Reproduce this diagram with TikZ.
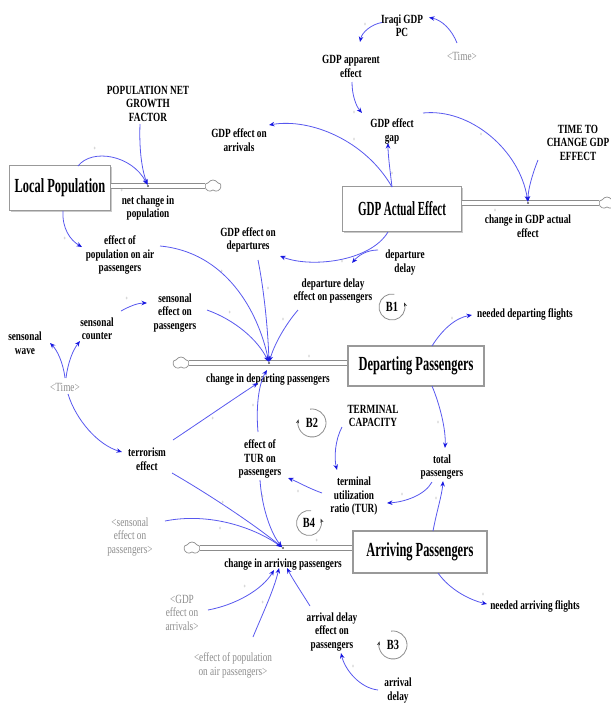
\documentclass[tikz,border=0pt]{standalone}
\usepackage{fontspec}
\setmainfont{Liberation Serif}[FakeStretch=0.74]
\newfontfamily\stockfont{Liberation Serif}[FakeStretch=0.62]
\newfontfamily\stockfontn{Liberation Serif}[FakeStretch=0.55]
\usetikzlibrary{arrows.meta,calc,shapes.symbols,shadows}
\definecolor{linkblue}{RGB}{88,88,238}
\definecolor{tipblue}{RGB}{25,25,225}
\begin{document}
\begin{tikzpicture}[x=1pt,y=-1pt,
  var/.style={align=center, inner sep=1pt, font=\bfseries\fontsize{12.5}{13.5}\selectfont},
  shadowvar/.style={align=center, inner sep=1pt, text=black!45, font=\fontsize{12.5}{13.5}\selectfont},
  stock/.style={draw=black!40, line width=1.1pt, fill=white,
    drop shadow={shadow xshift=1.3pt,shadow yshift=-1.3pt,fill=black!35,opacity=0.6},
    font=\stockfont\bfseries\fontsize{20}{22}\selectfont, inner sep=0pt},
  link/.style={draw=linkblue, line width=0.8pt, -{Stealth[length=5.5pt,width=4.5pt,color=tipblue]}},
  pipe/.style={draw=black!45, line width=0.8pt, double=white, double distance=3.6pt},
  cloudy/.style={cloud, cloud puffs=5, cloud puff arc=120, aspect=1.4, draw=black!45, fill=white,
    line width=0.7pt, minimum width=16pt, minimum height=12pt, inner sep=0pt},
  valve/.style={circle, fill=black!65, inner sep=0pt, minimum size=2.4pt},
  loopsym/.style={font=\bfseries\fontsize{14}{14}\selectfont, inner sep=1pt},
  looparc/.style={draw=black!45, line width=0.8pt, -{Stealth[length=4pt,width=3pt,color=black!80]}},
  pol/.style={text=black!45, font=\fontsize{6}{6}\selectfont, inner sep=0pt}
]
\useasboundingbox (0,0) rectangle (611,705);

% ---------- stocks ----------
\node[stock, minimum width=101pt, minimum height=45pt] (locpop) at (60,188) {Local Population};
\node[stock, minimum width=119pt, minimum height=45pt, font=\stockfontn\bfseries\fontsize{20}{22}\selectfont] (gdpact) at (402,209) {GDP Actual Effect};
\node[stock, minimum width=136pt, minimum height=40pt] (deppass) at (416,366) {Departing Passengers};
\node[stock, minimum width=134pt, minimum height=42pt] (arrpass) at (420,552) {Arriving Passengers};

% ---------- clouds, pipes and valves ----------
\node[cloudy] (cloudP) at (213,186) {};
\node[cloudy] (cloudG) at (607,203) {};
\node[cloudy] (cloudD) at (181,363) {};
\node[cloudy] (cloudA) at (192,548) {};

\draw[pipe] (locpop.east |- cloudP.west) -- (cloudP.west);
\draw[pipe] (gdpact.east |- cloudG.west) -- (cloudG.west);
\draw[pipe] (cloudD.east) -- (deppass.west |- cloudD.east);
\draw[pipe] (cloudA.east) -- (arrpass.west |- cloudA.east);

\node[valve] (vP) at (148,186) {};
\node[valve] (vG) at (528,203) {};
\node[valve] (vD) at (269,363) {};
\node[valve] (vA) at (283,548) {};

% ---------- variables ----------
\node[var] (popfactor) at (148,103.5) {POPULATION NET\\GROWTH\\FACTOR};
\node[var] (netchange) at (148,208) {net change in\\population};
\node[var] (gdparr) at (239,140) {GDP effect on\\arrivals};
\node[var] (iraqi) at (402,25.5) {Iraqi GDP\\PC};
\node[shadowvar] (time1) at (462,56) {\textless Time\textgreater};
\node[var] (gdpapp) at (351,66.5) {GDP apparent\\effect};
\node[var] (gdpgap) at (392,131.5) {GDP effect\\gap};
\node[var] (timechange) at (578,142.5) {TIME TO\\CHANGE GDP\\EFFECT};
\node[var] (chgdp) at (528,226) {change in GDP actual\\effect};
\node[var] (effpop) at (120,255) {effect of\\population on air\\passengers};
\node[var] (gdpdep) at (248,240) {GDP effect on\\departures};
\node[var] (depdelay) at (405,262.5) {departure\\delay};
\node[var] (depdelayeff) at (333,291) {departure delay\\effect on passengers};
\node[var] (needdep) at (525,314) {needed departing flights};
\node[var] (sensonaleff) at (175,313) {sensonal\\effect on\\passengers};
\node[var] (senscounter) at (97,328.5) {sensonal\\counter};
\node[var] (senswave) at (25,343) {sensonal\\wave};
\node[shadowvar] (time2) at (65,387) {\textless Time\textgreater};
\node[var] (chdep) at (268,380) {change in departing passengers};
\node[var] (termcap) at (373,416) {TERMINAL\\CAPACITY};
\node[var] (totpass) at (442,467) {total\\passengers};
\node[var] (tur) at (354,496) {terminal\\utilization\\ratio (TUR)};
\node[var] (efftur) at (260,459) {effect of\\TUR on\\passengers};
\node[var] (terror) at (147,459) {terrorism\\effect};
\node[shadowvar] (sensshadow) at (130,537) {\textless sensonal\\effect on\\passengers\textgreater};
\node[var] (chdarr) at (283,565) {change in arriving passengers};
\node[shadowvar] (gdparrshadow) at (182,612.5) {\textless GDP\\effect on\\arrivals\textgreater};
\node[shadowvar] (popshadow) at (233,665.5) {\textless effect of population\\on air passengers\textgreater};
\node[var] (arrdelayeff) at (332,632) {arrival delay\\effect on\\passengers};
\node[var] (arrdelay) at (398,690.5) {arrival\\delay};
\node[var] (needarr) at (535,606) {needed arriving flights};

% ---------- loop symbols ----------
\node[loopsym] (B1) at (392,307) {B1};
\node[loopsym] (B2) at (312,423) {B2};
\node[loopsym] (B3) at (393,645) {B3};
\node[loopsym] (B4) at (309,523) {B4};
\draw[looparc] ($(B1.center)+(280:13)$) arc[start angle=280, end angle=-20, radius=13];
\draw[looparc] ($(B4.center)+(280:12.5)$) arc[start angle=280, end angle=-20, radius=12.5];
\draw[looparc] ($(B2.center)+(262:14)$) arc[start angle=262, end angle=555, radius=14];
\draw[looparc] ($(B3.center)+(262:14)$) arc[start angle=262, end angle=555, radius=14];

% ---------- links ----------
\draw[link] ($(popfactor.center)+(-8,20.5)$) .. controls (139,150) and (142,170) .. (vP);
\draw[link] ($(locpop.center)+(18,-22)$) .. controls (92,148) and (132,155) .. (vP);
\draw[link] ($(locpop.center)+(3,23)$) .. controls (62,228) and (70,240) .. ($(effpop.center)+(-38,-8)$);
\draw[link] ($(effpop.center)+(40,-9)$) .. controls (225,252) and (258,310) .. (vD);
\draw[link] ($(gdpdep.center)+(10,20)$) .. controls (264,290) and (268,330) .. (vD);
\draw[link] ($(depdelayeff.center)+(-35,19)$) .. controls (285,325) and (274,345) .. (vD);
\draw[link] ($(sensonaleff.center)+(32,-3)$) .. controls (235,320) and (258,340) .. (vD);
\draw[link] ($(gdpact.center)+(-14,23)$) .. controls (370,262) and (310,268) .. ($(gdpdep.center)+(32,16)$);
\draw[link] ($(depdelay.center)+(-27,-12.5)$) .. controls (366,250) and (358,256) .. ($(depdelayeff.center)+(19,-28)$);
\draw[link] ($(gdpact.center)+(-10,-22)$) .. controls (365,140) and (310,118) .. ($(gdparr.center)+(30,-15)$);
\draw[link] ($(gdpact.center)+(-10,-22)$) .. controls (390,170) and (388,155) .. ($(gdpgap.center)+(-4,11.5)$);
\draw[link] ($(gdpgap.center)+(31,-18.5)$) .. controls (470,108) and (520,150) .. (vG);
\draw[link] ($(timechange.center)+(-40,17.5)$) .. controls (532,175) and (528,190) .. (vG);
\draw[link] ($(iraqi.center)+(-20,-3)$) .. controls (372,24) and (362,32) .. ($(gdpapp.center)+(9,-24.5)$);
\draw[link] ($(time1.center)+(-5,-13)$) .. controls (452,30) and (442,20) .. ($(iraqi.center)+(27,-8)$);
\draw[link] ($(gdpapp.center)+(1,15.5)$) .. controls (352,95) and (356,106) .. ($(gdpgap.center)+(-30,-18.5)$);
\draw[link] ($(time2.center)+(0,-9)$) .. controls (63,362) and (57,350) .. ($(senswave.center)+(25,0)$);
\draw[link] ($(time2.center)+(1,-9)$) .. controls (68,362) and (73,350) .. ($(senscounter.center)+(-17,12.5)$);
\draw[link] ($(senscounter.center)+(24,-17.5)$) .. controls (130,306) and (138,303) .. ($(sensonaleff.center)+(-28,-10)$);
\draw[link] ($(time2.center)+(3,7)$) .. controls (76,420) and (98,445) .. ($(terror.center)+(-25,-7)$);
\draw[link] ($(terror.center)+(26,-19)$) .. controls (200,422) and (235,398) .. ($(chdep.center)+(-10,3)$);
\draw[link] ($(efftur.center)+(-2,-27)$) .. controls (256,410) and (258,385) .. ($(chdep.center)+(-1,-10)$);
\draw[link] ($(terror.center)+(25,14)$) .. controls (210,495) and (255,525) .. (vA);
\draw[link] ($(sensshadow.center)+(35,-16)$) .. controls (210,512) and (255,528) .. (vA);
\draw[link] ($(efftur.center)+(0,21)$) .. controls (262,510) and (272,535) .. (vA);
\draw[link] ($(tur.center)+(-32,-3)$) .. controls (308,488) and (298,482) .. ($(efftur.center)+(28,19)$);
\draw[link] ($(termcap.center)+(-31,11)$) .. controls (335,440) and (334,458) .. ($(tur.center)+(-17,-26)$);
\draw[link] ($(totpass.center)+(-10,15)$) .. controls (425,495) and (405,502) .. ($(tur.center)+(33,7)$);
\draw[link] ($(deppass.center)+(16,20)$) .. controls (440,405) and (446,430) .. ($(totpass.center)+(3,-19)$);
\draw[link] ($(arrpass.center)+(13,-21)$) .. controls (437,510) and (442,495) .. ($(totpass.center)+(1,14)$);
\draw[link] ($(deppass.center)+(16,-20)$) .. controls (442,330) and (455,318) .. ($(needdep.center)+(-53,1)$);
\draw[link] ($(arrpass.center)+(18,21)$) .. controls (450,590) and (470,600) .. ($(needarr.center)+(-48,-2)$);
\draw[link] ($(gdparrshadow.center)+(26,-2.5)$) .. controls (235,605) and (262,590) .. ($(chdarr.center)+(-9,5)$);
\draw[link] ($(popshadow.center)+(20,-28.5)$) .. controls (262,615) and (274,590) .. ($(chdarr.center)+(-4,3)$);
\draw[link] ($(arrdelayeff.center)+(-22,-26)$) .. controls (300,590) and (292,578) .. ($(chdarr.center)+(4,3)$);
\draw[link] ($(arrdelay.center)+(-20,-0.5)$) .. controls (360,688) and (345,670) .. ($(arrdelayeff.center)+(9,21)$);

% ---------- polarity marks ----------
\foreach \px/\py [count=\i] in {95/149, 365/25, 354/113, 354/140, 392/174, 481/135, 495/211,
  65/239, 222/272, 268/289, 230/313, 283/320, 127/299, 253/406, 213/419, 342/262, 452/319,
  309/357, 438/423, 223/503, 263/497, 220/529, 245/587, 263/603, 402/495, 436/499, 317/541,
  483/595, 353/667, 122/191, 298/492}
  \node[pol] (pol\i) at (\px,\py) {+};
\end{tikzpicture}
\end{document}
